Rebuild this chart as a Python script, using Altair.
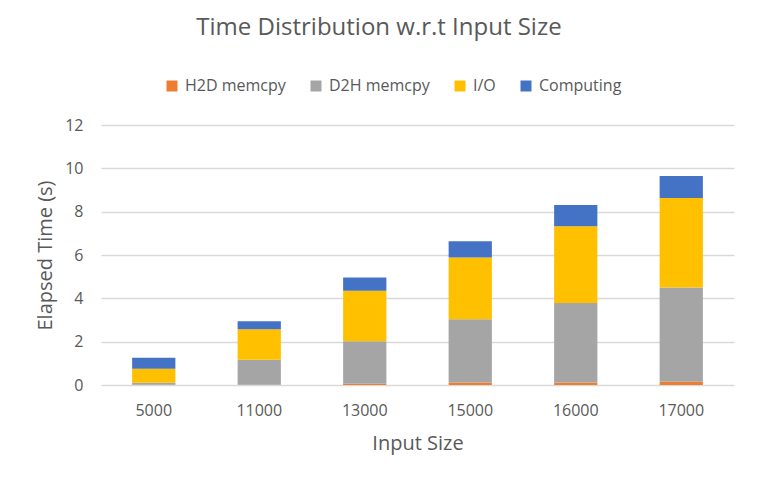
import altair as alt
import pandas as pd

sizes = ["5000", "11000", "13000", "15000", "16000", "17000"]
series = ["H2D memcpy", "D2H memcpy", "I/O", "Computing"]
colors = ["#ED7D31", "#A5A5A5", "#FFC000", "#4472C4"]

h2d = [0.01, 0.01, 0.06, 0.11, 0.11, 0.15]
d2h = [0.09, 1.16, 1.96, 2.93, 3.68, 4.35]
io = [0.65, 1.40, 2.33, 2.85, 3.54, 4.13]
comp = [0.51, 0.37, 0.61, 0.74, 0.98, 1.02]
y_ticks = [0, 2, 4, 6, 8, 10, 12]

rows = []
for i, s in enumerate(sizes):
    for k, (name, vals) in enumerate(zip(series, [h2d, d2h, io, comp])):
        rows.append({"size": s, "series": name, "value": vals[i], "idx": k})
df = pd.DataFrame(rows)

FONT = "Open Sans"
TXT = "#595959"

chart = alt.Chart(df).mark_bar().encode(
    x=alt.X(
        "size:N", sort=sizes,
        scale=alt.Scale(paddingInner=0.59, paddingOuter=0.295),
        axis=alt.Axis(
            title="Input Size", labelAngle=0, domain=False, ticks=False, tickSize=0,
            labelPadding=30, labelBaseline="alphabetic", labelFontSize=16,
            labelColor=TXT, labelFont=FONT, titleFontSize=20, titleColor=TXT,
            titleFont=FONT, titleFontWeight="normal", titleX=316.5, titleY=64,
            titleBaseline="alphabetic", titleAlign="center", grid=False,
        ),
    ),
    y=alt.Y(
        "value:Q", stack="zero",
        scale=alt.Scale(domain=[0, 12], nice=False),
        axis=alt.Axis(
            values=y_ticks, title="Elapsed Time (s)", domain=False, ticks=False,
            labelPadding=18, labelFontSize=16, labelColor=TXT, labelFont=FONT,
            grid=True, gridColor="#D9D9D9", gridWidth=1.5,
            titleFontSize=20, titleColor=TXT, titleFont=FONT, titleFontWeight="normal",
            titleX=-56, titleY=130, titleAngle=270, titleBaseline="middle",
            titleAlign="center",
        ),
    ),
    color=alt.Color(
        "series:N", sort=series,
        scale=alt.Scale(domain=series, range=colors),
        legend=alt.Legend(
            title=None, orient="none", legendX=63, legendY=-47,
            direction="horizontal", symbolType="square", symbolSize=121,
            symbolStrokeWidth=0, labelOffset=5, columnPadding=22,
            labelFontSize=16, labelColor=TXT, labelFont=FONT,
        ),
    ),
    order=alt.Order("idx:Q", sort="ascending"),
).properties(
    width=633,
    height=260,
    title=alt.TitleParams(
        text="Time Distribution w.r.t Input Size", fontSize=24, font=FONT,
        color=TXT, fontWeight="normal", anchor="middle", frame="group",
        dx=-38.5, offset=19, baseline="alphabetic",
    ),
    autosize=alt.AutoSizeParams(type="none"),
    padding={"left": 93, "top": 117, "right": 16, "bottom": 91},
    background="white",
).configure_view(stroke=None)

chart.save("out.html", embed_options={"renderer": "svg", "actions": False})
